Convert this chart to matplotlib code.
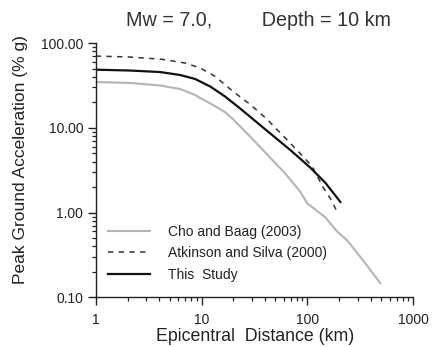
import numpy as np
import matplotlib
matplotlib.use("Agg")
import matplotlib.pyplot as plt

plt.rcParams['font.family'] = ['Liberation Sans', 'DejaVu Sans']

# Cho and Baag (2003)
d_cho = [1, 2.11, 4.06, 6.28, 8.69, 9.7, 12.1, 16.7, 19.9, 28.8, 41.7, 61.8, 85.7, 99.6,
         148, 191, 238, 353, 490]
pga_cho = [34.7, 33.8, 31.6, 28.7, 24.4, 22.5, 19.4, 15.3, 12.6, 7.9, 4.85, 2.9, 1.77, 1.29,
           0.88, 0.60, 0.472, 0.253, 0.147]

# Atkinson and Silva (2000)
d_as = [1, 2.11, 4.24, 7.0, 9.7, 13.5, 19.9, 28.8, 41.7, 61.8, 85.7, 111, 141, 169, 196]
pga_as = [70.2, 68.4, 64.3, 58.1, 50.8, 40.3, 26.8, 18.9, 12.6, 7.6, 4.98, 3.51, 1.99, 1.40, 0.955]

# This Study
d_ts = [1, 2.11, 4.06, 6.28, 8.69, 12.1, 16.7, 23.2, 30.8, 44.6, 68.9, 106, 148, 205]
pga_ts = [48.5, 47.4, 45.5, 42.0, 37.7, 30.7, 23.4, 16.9, 12.6, 8.59, 5.49, 3.42, 2.25, 1.34]

xticks = [1, 10, 100, 1000]
xlabels = ['1', '10', '100', '1000']
yticks = [0.1, 1, 10, 100]
ylabels = ['0.10', '1.00', '10.00', '100.00']

fig = plt.figure(figsize=(4.4, 3.47), dpi=100)
ax = fig.add_axes([0.2175, 0.1427, 0.7215, 0.7333])

ax.plot(d_cho, pga_cho, color='#b4b4b4', lw=1.5, label='Cho and Baag (2003)')
ax.plot(d_as, pga_as, color='#333333', lw=1.1, dashes=(3.5, 3.5), label='Atkinson and Silva (2000)')
ax.plot(d_ts, pga_ts, color='#111111', lw=1.6, label='This  Study')

ax.set_xscale('log')
ax.set_yscale('log')
ax.set_xlim(1, 1000)
ax.set_ylim(0.1, 100)
ax.set_xticks(xticks)
ax.set_xticklabels(xlabels)
ax.set_yticks(yticks)
ax.set_yticklabels(ylabels)

for s in ['top', 'right']:
    ax.spines[s].set_visible(False)
for s in ['left', 'bottom']:
    ax.spines[s].set_linewidth(1.0)
    ax.spines[s].set_color('#222222')

ax.tick_params(which='major', direction='out', length=5.5, width=1.0, color='#222222',
               labelsize=10, labelcolor='#222222')
ax.tick_params(which='minor', direction='out', length=3, width=0.9, color='#222222')
ax.tick_params(axis='x', which='major', pad=6)

ax.set_xlabel('Epicentral  Distance (km)', fontsize=12.8, color='#222222')
ax.xaxis.set_label_coords((255 - 95.7) / 317.5, -(328 - 297.5) / 254.5)
ax.set_ylabel('Peak Ground Acceleration (% g)', fontsize=12.5, color='#222222')
ax.yaxis.set_label_coords(-(95.7 - 27.5) / 317.5, (297.5 - 160) / 254.5)
fig.text(258 / 440, 1 - 21 / 347, 'Mw = 7.0,         Depth = 10 km', fontsize=14.2,
         color='#333333', ha='center', va='center')

ax.legend(loc='lower left', bbox_to_anchor=(0.0, 0.012), frameon=False, fontsize=10,
          handlelength=3.0, handletextpad=1.3, labelspacing=0.55, labelcolor='#222222')

fig.savefig('out.png', dpi=100)
